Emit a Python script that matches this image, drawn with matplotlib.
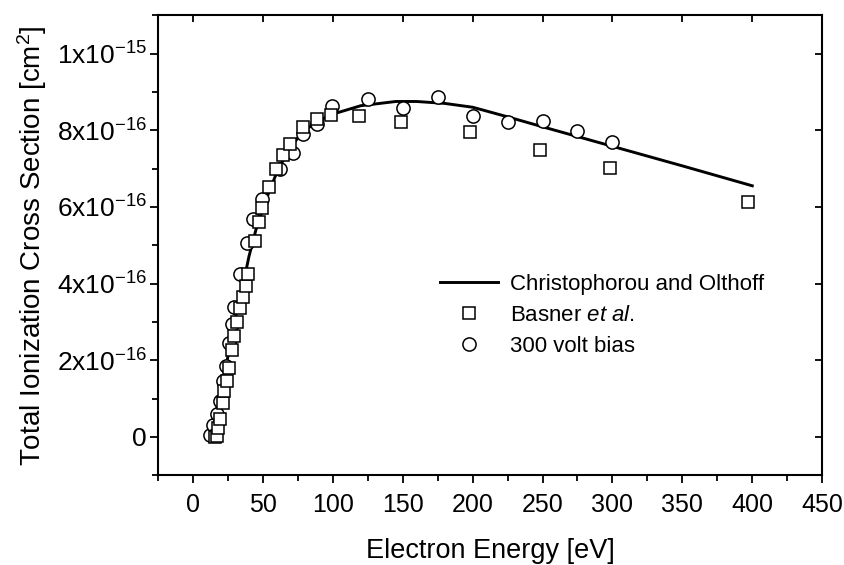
import matplotlib
matplotlib.use("Agg")
from matplotlib import pyplot as plt
from matplotlib.ticker import FixedLocator, MultipleLocator

plt.rcParams['font.family'] = ['Liberation Sans', 'DejaVu Sans']
plt.rcParams['mathtext.fontset'] = 'custom'
plt.rcParams['mathtext.rm'] = 'Liberation Sans'
plt.rcParams['mathtext.it'] = 'Liberation Sans:italic'
plt.rcParams['mathtext.default'] = 'regular'

# cross sections in units of 1e-16 cm^2
christo_e = [12.5, 14, 16, 18, 20, 22, 24, 26, 28, 30, 32, 35, 38, 40, 45, 50,
             55, 60, 65, 70, 75, 80, 90, 100, 120, 145, 160, 180, 200, 225,
             250, 300, 350, 400]
christo_s = [0.0, 0.25, 0.6, 0.9, 1.2, 1.55, 1.9, 2.3, 2.7, 3.05, 3.4, 3.85,
             4.35, 4.7, 5.4, 5.95, 6.45, 6.9, 7.25, 7.55, 7.8, 8.0, 8.25, 8.42,
             8.64, 8.75, 8.75, 8.7, 8.6, 8.35, 8.09, 7.58, 7.07, 6.55]

basner_e = [15.7, 17.0, 18.1, 19.3, 21.2, 22.4, 24.1, 25.8, 27.7, 29.5, 31.3,
            33.6, 36.0, 37.7, 39.1, 44.3, 47.4, 49.6, 54.4, 59.4, 64.2, 69.4,
            79, 89, 98.5, 119, 149, 198, 248, 298, 397]
basner_s = [0.0, 0.03, 0.24, 0.46, 0.87, 1.20, 1.46, 1.79, 2.26, 2.64, 3.00,
            3.37, 3.66, 3.94, 4.25, 5.12, 5.61, 5.97, 6.53, 6.99, 7.36, 7.64,
            8.08, 8.29, 8.40, 8.36, 8.21, 7.95, 7.49, 7.02, 6.14]

bias_e = [12.5, 14.5, 17.0, 19.3, 21.7, 23.6, 26.0, 27.7, 29.3, 33.6, 38.4,
          43.2, 49.1, 62.2, 71.5, 79, 88.9, 99.2, 125, 150, 175, 200, 225,
          250, 275, 300]
bias_s = [0.05, 0.3, 0.6, 0.94, 1.46, 1.85, 2.46, 2.94, 3.38, 4.25, 5.05,
          5.68, 6.2, 6.99, 7.4, 7.9, 8.16, 8.62, 8.82, 8.58, 8.86, 8.38, 8.21,
          8.25, 7.99, 7.68]

y_ticks = [0, 2, 4, 6, 8, 10]
y_labels = ['0', '2x10$^{-16}$', '4x10$^{-16}$', '6x10$^{-16}$',
            '8x10$^{-16}$', '1x10$^{-15}$']
x_ticks = [0, 50, 100, 150, 200, 250, 300, 350, 400, 450]

fig = plt.figure(figsize=(8.45, 5.65), dpi=100)
ax = fig.add_axes([0.187, 0.159, 0.786, 0.814])

ax.plot(christo_e, christo_s, color='black', lw=2.1, zorder=2,
        label='Christophorou and Olthoff')
ax.plot(bias_e, bias_s, ls='none', marker='o', ms=9.5, mfc='white',
        mec='black', mew=1.1, zorder=3, label='300 volt bias')
ax.plot(basner_e, basner_s, ls='none', marker='s', ms=9, mfc='white',
        mec='black', mew=1.1, zorder=4, label='Basner $\\it{et\\ al.}$')

ax.set_xlim(-25, 450)
ax.set_ylim(-1, 11)
ax.xaxis.set_major_locator(FixedLocator(x_ticks))
ax.xaxis.set_minor_locator(MultipleLocator(25))
ax.set_yticks(y_ticks)
ax.set_yticklabels(y_labels)
ax.yaxis.set_minor_locator(MultipleLocator(1))

for sp in ax.spines.values():
    sp.set_linewidth(1.5)
ax.tick_params(which='major', direction='out', length=6, width=1.3,
               labelsize=18)
ax.tick_params(which='minor', direction='out', length=4.5, width=1.3)
ax.tick_params(axis='x', which='major', pad=7)
ax.tick_params(axis='y', which='major', pad=2, labelsize=19)

# inward ticks on top and right
top = ax.secondary_xaxis('top')
top.set_xticks(x_ticks[:-1])
top.tick_params(direction='in', length=5, width=1.3, labeltop=False)
top.spines['top'].set_visible(False)
right = ax.secondary_yaxis('right')
right.set_yticks(y_ticks)
right.tick_params(direction='in', length=5, width=1.3, labelright=False)
right.spines['right'].set_visible(False)

ax.set_xlabel('Electron Energy [eV]', fontsize=19.5, labelpad=15)
ax.set_ylabel('Total Ionization Cross Section [cm$^2$]', fontsize=20,
              labelpad=6)

h, l = ax.get_legend_handles_labels()
order = [0, 2, 1]
ax.legend([h[i] for i in order], [l[i] for i in order], loc='upper left',
          bbox_to_anchor=(0.425, 0.437), frameon=False, fontsize=16,
          borderaxespad=0, borderpad=0, handlelength=2.6,
          handletextpad=0.55, labelspacing=0.45)

fig.savefig('out.png', dpi=100)
